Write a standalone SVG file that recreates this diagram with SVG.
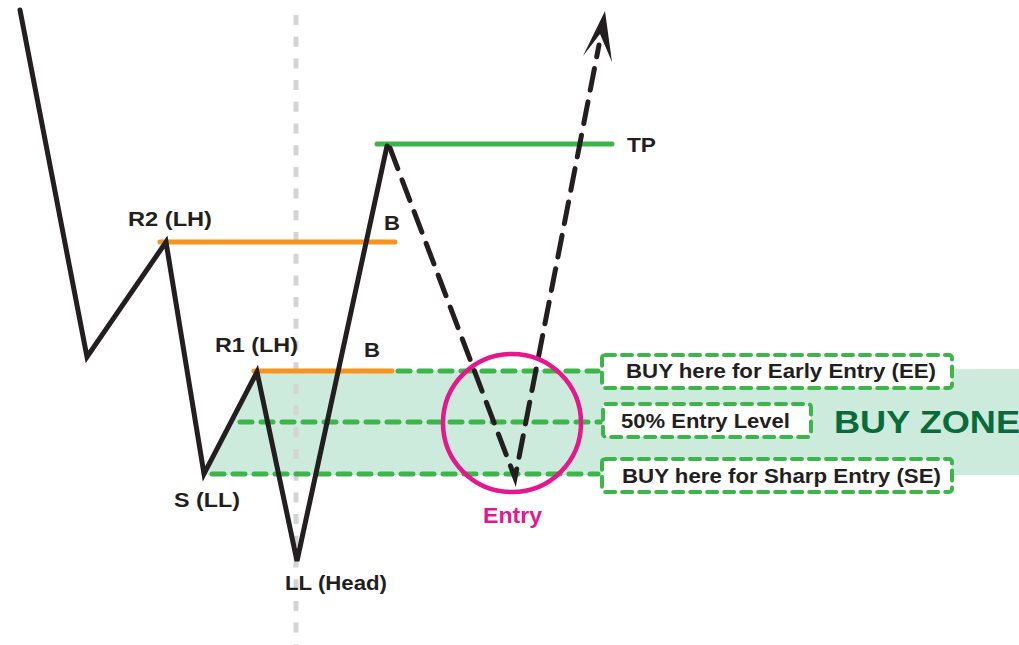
<svg xmlns="http://www.w3.org/2000/svg" width="1019" height="645" viewBox="0 0 1019 645">
<style>
.lbl{font-family:"Liberation Sans",Arial,sans-serif;font-weight:bold;fill:#231f20;font-size:21px}
.box{fill:#fff;stroke:#3cb54a;stroke-width:4;stroke-dasharray:10 7;stroke-linecap:round}
.gd{stroke:#3cb54a;stroke-width:5;stroke-dasharray:12 9;stroke-linecap:round;fill:none}
.bx{font-family:"Liberation Sans",Arial,sans-serif;font-weight:bold;fill:#231f20;font-size:20.5px}
</style>
<rect width="1019" height="645" fill="#fff"/>
<g id="zone">
<polygon points="257,371 1019,369 1019,475 207,475" fill="#cdebdc"/>
</g>
<g id="gridline">
<line x1="296" y1="15" x2="296" y2="645" stroke="#d4d4d4" stroke-width="5" stroke-dasharray="10 11.7"/>
</g>
<g id="connectors">
<line class="gd" x1="398" y1="371" x2="598" y2="371"/>
<line class="gd" x1="240" y1="422" x2="600" y2="422"/>
<line class="gd" x1="212" y1="474" x2="598" y2="474"/>
</g>
<g id="levels">
<line x1="160" y1="242" x2="395" y2="242" stroke="#f7941d" stroke-width="5" stroke-linecap="round"/>
<line x1="254" y1="371" x2="392" y2="371" stroke="#f7941d" stroke-width="5" stroke-linecap="round"/>
<line x1="377" y1="144" x2="612" y2="144" stroke="#3cb54a" stroke-width="5" stroke-linecap="round"/>
</g>
<g id="price">
<polyline points="20,10 87,357 166,242 204,474 257,372 297,561 387,146" fill="none" stroke="#231f20" stroke-width="5" stroke-linejoin="miter" stroke-linecap="round"/>
</g>
<g id="projection">
<polyline points="390,148 515,478 599,45" fill="none" stroke="#231f20" stroke-width="5" stroke-dasharray="22 12" stroke-linecap="round"/>
<polygon points="605,11 583,56 600,34 612,62" fill="#231f20"/>
</g>
<g id="entry">
<circle cx="512" cy="423" r="69" fill="none" stroke="#e6168c" stroke-width="4.5"/>
<text x="483" y="523" font-family="Liberation Sans,Arial,sans-serif" font-weight="bold" font-size="22" fill="#e6168c" textLength="59" lengthAdjust="spacingAndGlyphs">Entry</text>
</g>
<g id="labels">
<text class="lbl" x="128" y="226" textLength="84" lengthAdjust="spacingAndGlyphs">R2 (LH)</text>
<text class="lbl" x="215" y="352" textLength="83" lengthAdjust="spacingAndGlyphs">R1 (LH)</text>
<text class="lbl" x="384" y="230" textLength="16" lengthAdjust="spacingAndGlyphs">B</text>
<text class="lbl" x="364" y="357" textLength="16" lengthAdjust="spacingAndGlyphs">B</text>
<text class="lbl" x="174" y="507" textLength="66" lengthAdjust="spacingAndGlyphs">S (LL)</text>
<text class="lbl" x="285" y="590" textLength="102" lengthAdjust="spacingAndGlyphs">LL (Head)</text>
<text class="lbl" x="627" y="152" textLength="29" lengthAdjust="spacingAndGlyphs">TP</text>
</g>
<g id="box-ee">
<rect class="box" x="602" y="355" width="350" height="33" rx="3"/>
<text class="bx" x="626" y="378" textLength="310" lengthAdjust="spacingAndGlyphs">BUY here for Early Entry (EE)</text>
</g>
<g id="box-50">
<rect class="box" x="603" y="404" width="208" height="33" rx="3"/>
<text class="bx" x="621" y="428" textLength="169" lengthAdjust="spacingAndGlyphs">50% Entry Level</text>
</g>
<g id="box-se">
<rect class="box" x="602" y="459" width="350" height="33" rx="3"/>
<text class="bx" x="622" y="483" textLength="319" lengthAdjust="spacingAndGlyphs">BUY here for Sharp Entry (SE)</text>
</g>
<g id="buyzone">
<text x="834" y="433" font-family="Liberation Sans,Arial,sans-serif" font-weight="bold" font-size="31" fill="#0a6b3a" textLength="186" lengthAdjust="spacingAndGlyphs">BUY ZONE</text>
</g>
</svg>
